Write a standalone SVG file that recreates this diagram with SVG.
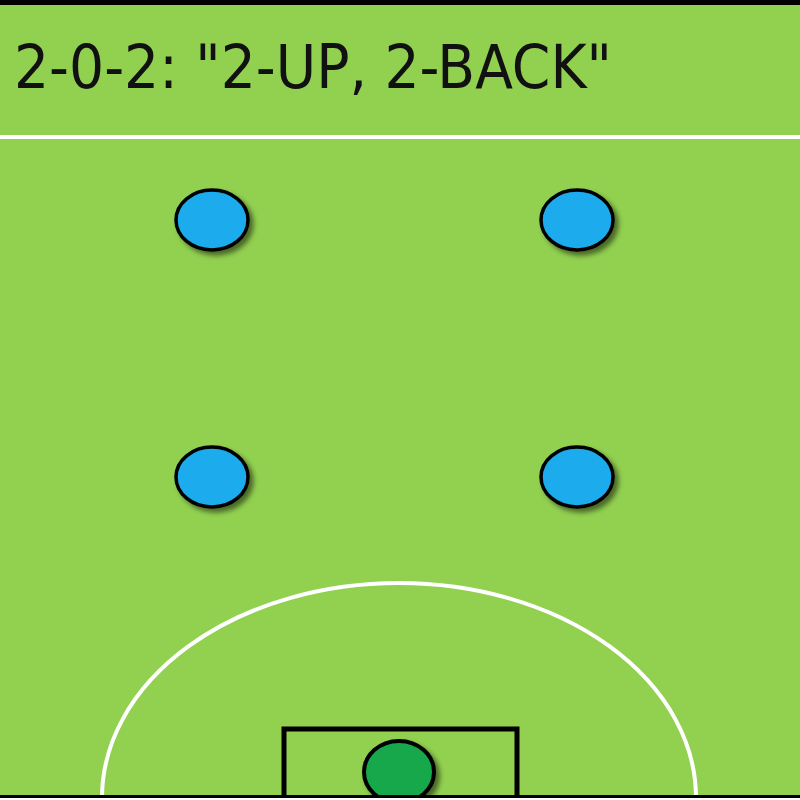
<svg xmlns="http://www.w3.org/2000/svg" width="800" height="800" viewBox="0 0 800 800">
<defs>
<filter id="sh" x="-30%" y="-30%" width="160%" height="160%">
<feGaussianBlur in="SourceAlpha" stdDeviation="2.5"/>
<feOffset dx="4" dy="4" result="b"/>
<feComponentTransfer><feFuncA type="linear" slope="0.5"/></feComponentTransfer>
<feMerge><feMergeNode/><feMergeNode in="SourceGraphic"/></feMerge>
</filter>
<clipPath id="field"><rect x="0" y="0" width="800" height="796"/></clipPath>
</defs>
<style>
.player{fill:#1AACEE;stroke:#000;stroke-width:3.5;filter:url(#sh)}
.keeper{fill:#13A84C;stroke:#000;stroke-width:4;filter:url(#sh)}
.line{fill:none;stroke:#fff;stroke-width:4}
.title{font-family:"DejaVu Sans Condensed","Liberation Sans",sans-serif;font-size:60px;fill:#111}
</style>
<rect x="0" y="0" width="800" height="800" fill="#92D050"/>
<rect x="0" y="0" width="800" height="5" fill="#000"/>
<text class="title" x="14" y="88" textLength="598" lengthAdjust="spacingAndGlyphs">2-0-2: "2-UP, 2-BACK"</text>
<line class="line" x1="0" y1="137" x2="800" y2="137"/>
<g clip-path="url(#field)">
<ellipse class="line" cx="399" cy="798" rx="297" ry="215"/>
<rect x="284" y="729" width="233" height="80" fill="none" stroke="#000" stroke-width="5"/>
<g id="keeper"><ellipse class="keeper" cx="399" cy="772" rx="35" ry="31"/></g>
</g>
<rect x="0" y="795" width="800" height="3" fill="#000"/>
<rect x="0" y="798" width="800" height="2" fill="#fff"/>
<g id="fwd-left"><ellipse class="player" cx="212" cy="220" rx="36" ry="30"/></g>
<g id="fwd-right"><ellipse class="player" cx="577" cy="220" rx="36" ry="30"/></g>
<g id="back-left"><ellipse class="player" cx="212" cy="477" rx="36" ry="30"/></g>
<g id="back-right"><ellipse class="player" cx="577" cy="477" rx="36" ry="30"/></g>
<g id="connectors"/>
</svg>
